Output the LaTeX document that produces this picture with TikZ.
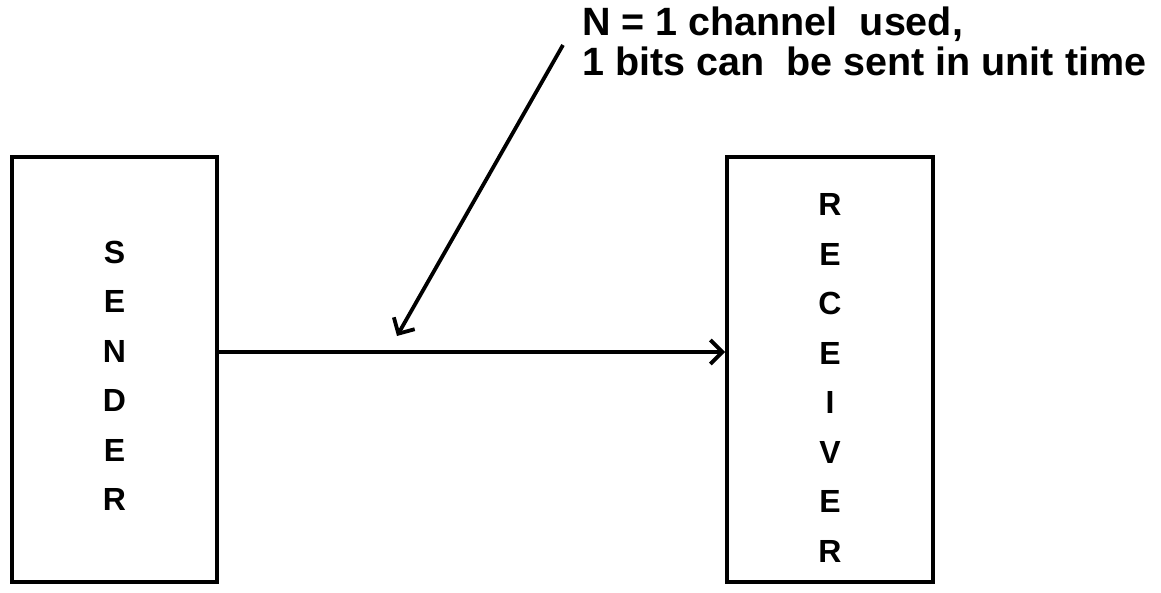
\documentclass[tikz,border=0pt]{standalone}
\usepackage{fontspec}
\setmainfont{Liberation Sans}
\usetikzlibrary{arrows.meta}
\tikzset{
  blockbox/.style={draw, line width=4pt, minimum width=205pt, minimum height=425pt, inner sep=0pt},
  vlabel/.style={font=\bfseries\fontsize{32}{49.5}\selectfont, align=center, inner sep=0pt},
  toplabel/.style={font=\bfseries\fontsize{39.5}{40}\selectfont, anchor=base west, inner sep=0pt},
  conn/.style={line width=3.8pt, -{Straight Barb[length=12pt,width=24pt,line width=3.8pt]}}
}
\begin{document}
\begin{tikzpicture}[x=1pt,y=-1pt]
\useasboundingbox (0,0) rectangle (1161,593);
\node[blockbox] (sender) at (114.5,369.5) {};
\node[blockbox, minimum width=206pt] (receiver) at (830,369.5) {};
\node[vlabel] (stext) at (114.5,376) {S\\E\\N\\D\\E\\R};
\node[vlabel] (rtext) at (830,378) {R\\E\\C\\E\\I\\V\\E\\R};
\node[toplabel] (l1) at (582,36) {N = 1 channel\ \ used,};
\node[toplabel] (l2) at (582,76) {1 bits can\ \ be sent in unit time};
\coordinate (astart) at (563,45);
\coordinate (atip) at (397,336);
\draw[conn] (sender.east |- 0,352) -- (receiver.west |- 0,352);
\draw[conn] (astart) -- (atip);
\end{tikzpicture}
\end{document}
